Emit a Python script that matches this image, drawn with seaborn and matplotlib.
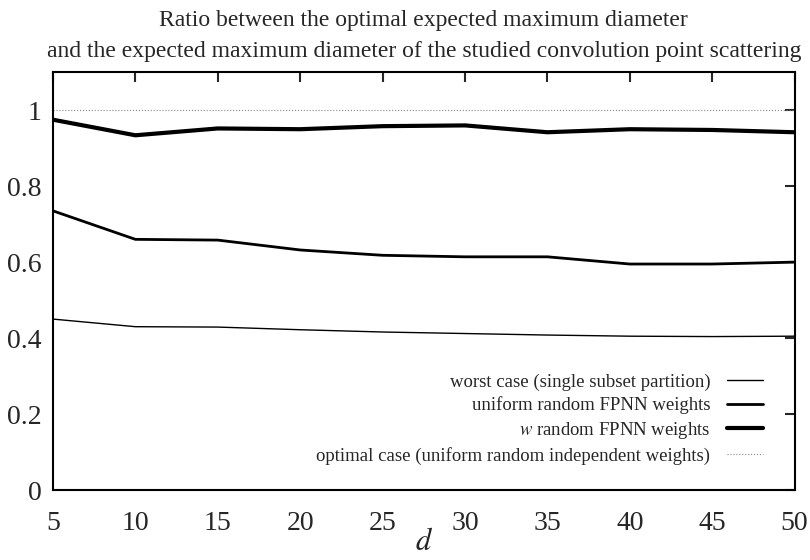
import seaborn as sns
import numpy as np
import pandas as pd
import matplotlib.pyplot as plt

d = [5, 10, 15, 20, 25, 30, 35, 40, 45, 50]
worst = [0.450, 0.430, 0.429, 0.422, 0.416, 0.412, 0.408, 0.405, 0.404, 0.405]
uniform_fpnn = [0.735, 0.660, 0.658, 0.632, 0.618, 0.614, 0.614, 0.595, 0.595, 0.600]
w_fpnn = [0.975, 0.934, 0.952, 0.950, 0.958, 0.960, 0.942, 0.950, 0.948, 0.942]
optimal = [1.0] * len(d)

labels = ['worst case (single subset partition)',
          'uniform random FPNN weights',
          '$w$ random FPNN weights',
          'optimal case (uniform random independent weights)']

df = pd.DataFrame({
    'd': d * 4,
    'ratio': worst + uniform_fpnn + w_fpnn + optimal,
    'series': [labels[0]] * len(d) + [labels[1]] * len(d) + [labels[2]] * len(d) + [labels[3]] * len(d),
})

sns.set_style('white')
plt.rcParams['font.family'] = ['Liberation Serif', 'DejaVu Serif']
plt.rcParams['mathtext.fontset'] = 'stix'

fig, ax = plt.subplots(figsize=(8.1, 5.6), dpi=100)
fig.subplots_adjust(left=0.0654, right=0.981, top=0.871, bottom=0.125)

widths = {labels[0]: 1.0, labels[1]: 2.0, labels[2]: 3.0, labels[3]: 0.8}
colors = {labels[0]: 'black', labels[1]: 'black', labels[2]: 'black', labels[3]: '#888888'}
for lab in labels:
    sub = df[df['series'] == lab]
    sns.lineplot(data=sub, x='d', y='ratio', ax=ax, color=colors[lab],
                 linewidth=widths[lab], linestyle=':' if lab == labels[3] else '-',
                 label=lab)

ax.set_xlim(5, 50)
ax.set_ylim(0, 1.1)
ax.set_xticks(np.arange(5, 51, 5))
ax.set_yticks([0, 0.2, 0.4, 0.6, 0.8, 1.0])
ax.set_yticklabels(['0', '0.2', '0.4', '0.6', '0.8', '1'])
ax.tick_params(axis='both', direction='in', length=7, width=1.5, labelsize=20,
               top=True, right=True)
ax.tick_params(axis='x', pad=15)
ax.tick_params(axis='y', pad=8)
for s in ax.spines.values():
    s.set_linewidth(1.5)
    s.set_color('black')

ax.set_xlabel('$d$', fontsize=22, labelpad=-6)
ax.set_ylabel('')
ax.set_title('Ratio between the optimal expected maximum diameter\n'
             'and the expected maximum diameter of the studied convolution point scattering',
             fontsize=17, pad=11, linespacing=1.6)

leg = ax.legend(loc='lower right', bbox_to_anchor=(0.967, 0.043), borderaxespad=0,
                frameon=False, markerfirst=False, fontsize=13.5,
                handlelength=1.9, handletextpad=0.9, labelspacing=0.3)
for t in leg.get_texts():
    t.set_ha('right')

plt.savefig('out.png', dpi=100)
